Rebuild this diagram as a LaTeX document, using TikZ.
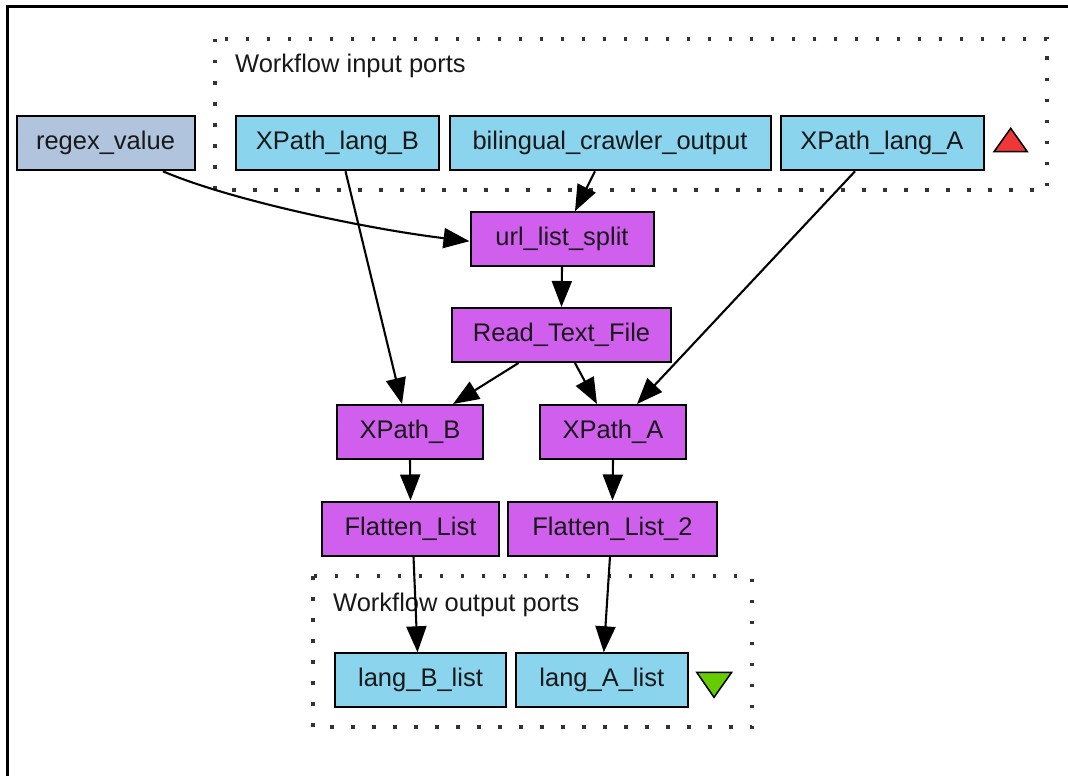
\documentclass[tikz,border=0pt]{standalone}
\usepackage{fontspec}
\setmainfont{Liberation Sans}
\usetikzlibrary{arrows.meta}
\definecolor{portfill}{RGB}{138,212,238}
\definecolor{procfill}{RGB}{209,95,238}
\definecolor{inputfill}{RGB}{176,196,222}
\definecolor{upmark}{RGB}{240,55,55}
\definecolor{downmark}{RGB}{102,204,0}
\begin{document}
\begin{tikzpicture}[x=1pt,y=-1pt,
  box/.style={draw=black, line width=2pt, minimum height=54pt, inner sep=0pt,
    font=\fontsize{25.5}{30}\selectfont, text=black!90},
  port/.style={box, fill=portfill},
  proc/.style={box, fill=procfill},
  edge/.style={line width=2.1pt, -{Triangle[length=26pt,width=20pt]}},
  cluster/.style={draw=black!80, line width=3.5pt, dash pattern=on 3.5pt off 17.5pt},
  clusterlabel/.style={anchor=base west, inner sep=0pt,
    font=\fontsize{25.5}{30}\selectfont, text=black!90},
  marker/.style={draw=black, line width=1.5pt, line join=miter},
  ]
\useasboundingbox (0,0) rectangle (1068,776);
\fill[white] (0,0) rectangle (1068,776);
% frame edges
\draw[line width=3pt] (7,776) -- (7,7) -- (1068,7);

% clusters
\draw[cluster] (215,39) rectangle (1047,190);
\node[clusterlabel] (inlabel) at (235,73) {Workflow input ports};
\draw[cluster] (313,576) rectangle (752,727);
\node[clusterlabel] (outlabel) at (333,611) {Workflow output ports};

% input ports
\node[box, fill=inputfill, minimum width=178pt] (regex) at (105.5,143.3) {regex\_value};
\node[port, minimum width=203pt] (xlB) at (337.5,143.3) {XPath\_lang\_B};
\node[port, minimum width=321pt] (bco) at (610,143.3) {bilingual\_crawler\_output};
\node[port, minimum width=203pt] (xlA) at (882,143.3) {XPath\_lang\_A};
\draw[marker, fill=upmark] (994,151.7) -- (1010.7,128.3) -- (1027.3,151.7) -- cycle;

% processors
\node[proc, minimum width=183pt] (usplit) at (562,239.2) {url\_list\_split};
\node[proc, minimum width=219pt] (rtf) at (561.5,335) {Read\_Text\_File};
\node[proc, minimum width=146pt] (xB) at (410,432) {XPath\_B};
\node[proc, minimum width=146pt] (xA) at (613,432) {XPath\_A};
\node[proc, minimum width=177pt] (flB) at (410.5,528.5) {Flatten\_List};
\node[proc, minimum width=209pt] (flA) at (612.5,528.5) {Flatten\_List\_2};

% output ports
\node[port, minimum width=171pt] (outB) at (420.5,680.3) {lang\_B\_list};
\node[port, minimum width=172pt] (outA) at (601.8,680.3) {lang\_A\_list};
\draw[marker, fill=downmark] (696.7,672.3) -- (731.7,672.3) -- (714,697.3) -- cycle;

% data links
\draw[edge] (regex.-26) .. controls (235,202) and (375,230) .. ([yshift=-2]usplit.west);
\draw[edge] ([xshift=8]xlB.south) -- ([xshift=-8]xB.north);
\draw[edge] ([xshift=-15]bco.south) -- ([xshift=13]usplit.north);
\draw[edge] ([xshift=-27]xlA.south) -- ([xshift=24]xA.north);
\draw[edge] (usplit.south) -- (rtf.north);
\draw[edge] ([xshift=-43]rtf.south) -- ([xshift=43]xB.north);
\draw[edge] ([xshift=13.5]rtf.south) -- ([xshift=-16]xA.north);
\draw[edge] (xB.south) -- (flB.north);
\draw[edge] (xA.south) -- (flA.north);
\draw[edge] ([xshift=3]flB.south) -- ([xshift=-3]outB.north);
\draw[edge] ([xshift=-2.5]flA.south) -- ([xshift=2]outA.north);
\end{tikzpicture}
\end{document}
